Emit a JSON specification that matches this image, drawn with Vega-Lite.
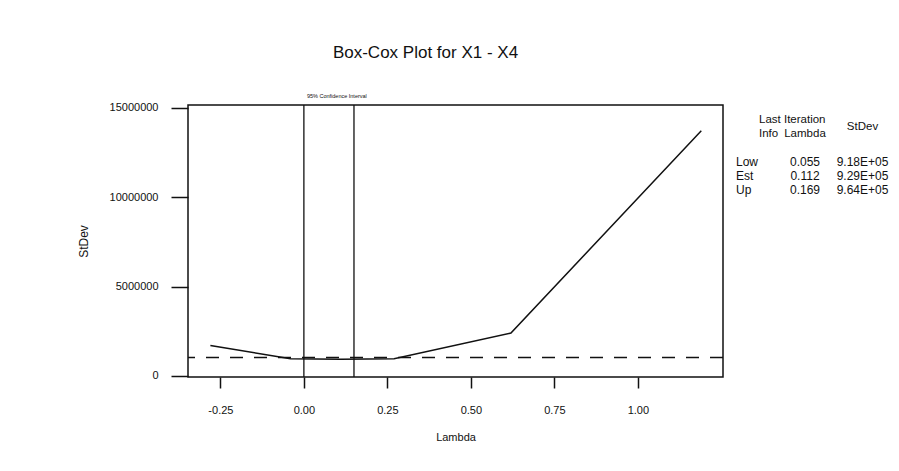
{
  "$schema": "https://vega.github.io/schema/vega-lite/v6.json",
  "width": 535,
  "height": 272,
  "autosize": "none",
  "padding": {"left": 188, "top": 105, "right": 176, "bottom": 94},
  "background": "#ffffff",
  "config": {
    "font": "Liberation Sans",
    "view": {"stroke": "#111111", "strokeWidth": 1.5},
    "axis": {"grid": false, "domain": false, "tickColor": "#111111", "labelColor": "#111111", "titleColor": "#111111", "tickWidth": 1.5, "labelFont": "Liberation Sans", "titleFont": "Liberation Sans", "titleFontWeight": "normal"}
  },
  "title": {
    "text": "Box-Cox Plot for X1 - X4",
    "anchor": "middle",
    "frame": "group",
    "dx": -30,
    "offset": 19,
    "baseline": "alphabetic",
    "fontSize": 17,
    "fontWeight": "normal",
    "font": "Liberation Sans",
    "color": "#111111"
  },
  "datasets": {
    "curve": [
      {"lambda": -0.28, "stdev": 1700000},
      {"lambda": -0.04, "stdev": 960000},
      {"lambda": 0.11, "stdev": 930000},
      {"lambda": 0.27, "stdev": 970000},
      {"lambda": 0.62, "stdev": 2400000},
      {"lambda": 1.19, "stdev": 13700000}
    ],
    "ci": [
      {"bound": "Low", "lambda": 0.0},
      {"bound": "Up", "lambda": 0.15}
    ],
    "cutoff": [{"stdev": 1030000}],
    "table": [
      {"kind": "name", "col": "name", "row": "Low", "text": "Low"},
      {"kind": "name", "col": "name", "row": "Est", "text": "Est"},
      {"kind": "name", "col": "name", "row": "Up", "text": "Up"},
      {"kind": "value", "col": "lambda", "row": "Low", "text": "0.055"},
      {"kind": "value", "col": "lambda", "row": "Est", "text": "0.112"},
      {"kind": "value", "col": "lambda", "row": "Up", "text": "0.169"},
      {"kind": "value", "col": "stdev", "row": "Low", "text": "9.18E+05"},
      {"kind": "value", "col": "stdev", "row": "Est", "text": "9.29E+05"},
      {"kind": "value", "col": "stdev", "row": "Up", "text": "9.64E+05"},
      {"kind": "headleft", "col": "head", "row": "h1", "text": "Last Iteration"},
      {"kind": "headleft", "col": "head", "row": "h2", "text": "Info"},
      {"kind": "headcenter", "col": "lambda", "row": "h2", "text": "Lambda"},
      {"kind": "headcenter", "col": "stdev", "row": "h15", "text": "StDev"}
    ]
  },
  "layer": [
    {
      "layer": [
        {
          "data": {"name": "cutoff"},
          "mark": {"type": "rule", "color": "#111111", "strokeWidth": 1.5, "strokeDash": [13, 11]},
          "encoding": {
            "y": {"field": "stdev", "type": "quantitative"}
          }
        },
        {
          "data": {"name": "ci"},
          "mark": {"type": "rule", "color": "#111111", "strokeWidth": 1.3},
          "encoding": {
            "x": {"field": "lambda", "type": "quantitative"}
          }
        },
        {
          "data": {"name": "ci"},
          "transform": [{"filter": "datum.bound === 'Low'"}],
          "mark": {"type": "text", "text": "95% Confidence Interval", "fontSize": 5.5, "align": "left", "baseline": "bottom", "dx": 3, "dy": -6, "y": 0, "color": "#111111"},
          "encoding": {
            "x": {"field": "lambda", "type": "quantitative"}
          }
        },
        {
          "data": {"name": "curve"},
          "mark": {"type": "line", "color": "#111111", "strokeWidth": 1.5},
          "encoding": {
            "x": {
              "field": "lambda",
              "type": "quantitative",
              "scale": {"domain": [-0.347, 1.255], "nice": false, "zero": false},
              "axis": {
                "title": "Lambda",
                "values": [-0.25, 0, 0.25, 0.5, 0.75, 1.0],
                "labelExpr": "replace(format(datum.value, '.2f'), '\u2212', '-')",
                "tickSize": 11,
                "labelPadding": 16,
                "labelFontSize": 11,
                "titleFontSize": 11,
                "titlePadding": 16
              }
            },
            "y": {
              "field": "stdev",
              "type": "quantitative",
              "scale": {"domain": [-56000, 15140000], "nice": false, "zero": false},
              "axis": {
                "title": "StDev",
                "values": [0, 5000000, 10000000, 15000000],
                "format": "d",
                "tickSize": 17,
                "labelPadding": 13,
                "labelFontSize": 11,
                "titleFontSize": 12,
                "titlePadding": 19
              }
            }
          }
        }
      ]
    },
    {
      "data": {"name": "table"},
      "encoding": {
        "x": {
          "field": "col",
          "type": "nominal",
          "scale": {"type": "point", "domain": ["name", "p1", "head", "p3", "p4", "p5", "lambda", "p7", "p8", "p9", "p10", "stdev"], "range": [548, 674.5], "padding": 0},
          "axis": null
        },
        "y": {
          "field": "row",
          "type": "nominal",
          "scale": {"type": "point", "domain": ["h1", "h15", "h2", "q3", "q4", "q5", "Low", "q7", "Est", "q9", "Up"], "range": [15, 85], "padding": 0},
          "axis": null
        },
        "text": {"field": "text", "type": "nominal"}
      },
      "layer": [
        {
          "transform": [{"filter": "datum.kind === 'name'"}],
          "mark": {"type": "text", "align": "left", "baseline": "middle", "fontSize": 12, "color": "#111111"}
        },
        {
          "transform": [{"filter": "datum.kind === 'value'"}],
          "mark": {"type": "text", "align": "center", "baseline": "middle", "fontSize": 12, "color": "#111111"}
        },
        {
          "transform": [{"filter": "datum.kind === 'headleft'"}],
          "mark": {"type": "text", "align": "left", "baseline": "middle", "fontSize": 11.5, "color": "#111111"}
        },
        {
          "transform": [{"filter": "datum.kind === 'headcenter'"}],
          "mark": {"type": "text", "align": "center", "baseline": "middle", "fontSize": 11.5, "color": "#111111"}
        }
      ]
    }
  ],
  "resolve": {
    "scale": {"x": "independent", "y": "independent"},
    "axis": {"x": "independent", "y": "independent"}
  }
}
